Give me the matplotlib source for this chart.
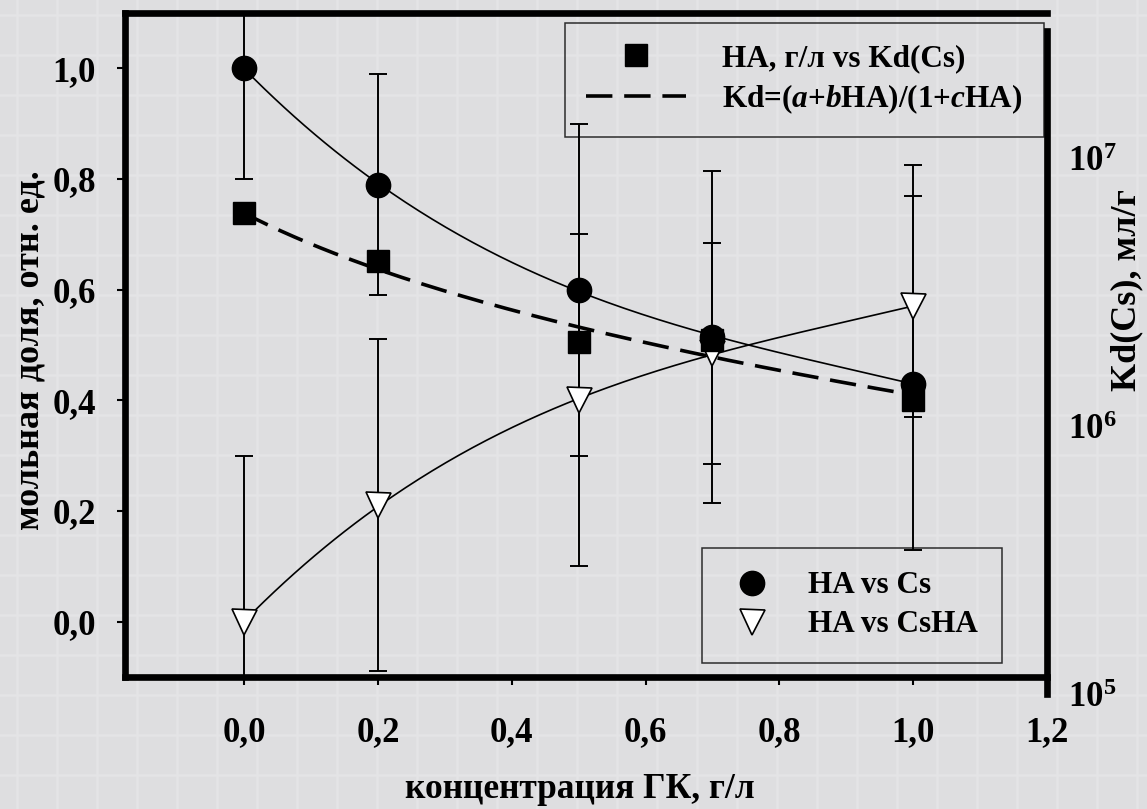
import numpy as np
import matplotlib
matplotlib.use('Agg')
import matplotlib.pyplot as plt
from matplotlib.lines import Line2D

plt.rcParams['font.family'] = 'Liberation Serif'
plt.rcParams['font.weight'] = 'bold'
plt.rcParams['mathtext.fontset'] = 'custom'
plt.rcParams['mathtext.rm'] = 'Liberation Serif:bold'
plt.rcParams['mathtext.bf'] = 'Liberation Serif:bold'
plt.rcParams['mathtext.it'] = 'Liberation Serif:italic:bold'
plt.rcParams['lines.scale_dashes'] = False

# HA concentration, g/l
ha = [0.0, 0.2, 0.5, 0.7, 1.0]

# mole fraction of free Cs, error bars (down, up)
cs = [1.0, 0.79, 0.60, 0.515, 0.43]
cs_lo = [0.2, 0.2, 0.3, 0.3, 0.3]
cs_hi = [0.2, 0.2, 0.3, 0.3, 0.395]

# mole fraction of CsHA, error bars (down, up)
csha = [0.0, 0.21, 0.40, 0.485, 0.57]
csha_lo = [0.3, 0.3, 0.3, 0.2, 0.2]
csha_hi = [0.3, 0.3, 0.3, 0.2, 0.2]

# Kd(Cs), ml/g
kd = [6.26e6, 4.14e6, 2.07e6, 2.10e6, 1.25e6]

# Kd = (a + b*HA) / (1 + c*HA)
fit_a, fit_b, fit_c = 6.26e6, -1.335e6, 2.76

x_ticks = [0.0, 0.2, 0.4, 0.6, 0.8, 1.0, 1.2]
y_ticks = [0.0, 0.2, 0.4, 0.6, 0.8, 1.0]
kd_ticks = [1e5, 1e6, 1e7]
kd_labels = [r'$10^{5}$', r'$10^{6}$', r'$10^{7}$']

W, H = 1147, 809
fig = plt.figure(figsize=(W / 100, H / 100), dpi=100, facecolor='#dedee0')


def box(left, top, right, bottom):
    # pixel box -> figure fraction rect
    return [left / W, 1 - bottom / H, (right - left) / W, (bottom - top) / H]


# graph paper backdrop
bg = fig.add_axes([0, 0, 1, 1], zorder=-10)
bg.set_xlim(0, W)
bg.set_ylim(H, 0)
bg.axis('off')
for gx in np.arange(17, W, 40):
    bg.axvline(gx, color='#e4e4e6', lw=1.8)
for gy in np.arange(15, H, 40):
    bg.axhline(gy, color='#e4e4e6', lw=1.8)

# mole fractions
ax = fig.add_axes(box(125, 13, 1047, 677))
ax.patch.set_visible(False)
ax.set_xlim(-0.178, 1.2)
ax.set_ylim(-0.1, 1.1)
for side in ['left', 'top', 'bottom']:
    ax.spines[side].set_linewidth(4.8)
ax.spines['right'].set_visible(False)
ax.set_xticks(x_ticks)
ax.set_xticklabels([f'{v:.1f}'.replace('.', ',') for v in x_ticks])
ax.set_yticks(y_ticks)
ax.set_yticklabels([f'{v:.1f}'.replace('.', ',') for v in y_ticks])
ax.tick_params(direction='out', length=6, width=1.5, labelsize=25)
ax.tick_params(axis='x', pad=22)
ax.tick_params(axis='y', pad=15)

xs = np.linspace(0, 1, 200)
ax.plot(xs, np.polyval(np.polyfit(ha, cs, 3), xs), color='k', lw=1.2)
ax.plot(xs, np.polyval(np.polyfit(ha, csha, 3), xs), color='k', lw=1.2)

err = dict(fmt='none', ecolor='k', elinewidth=1.4, capsize=6.5, capthick=1.4)
ax.errorbar(ha, cs, yerr=[cs_lo, cs_hi], **err)
ax.errorbar(ha, csha, yerr=[csha_lo, csha_hi], **err)
ax.plot(ha, csha, ls='none', marker='v', ms=18, mfc='white', mec='k', mew=1.2)
ax.plot(ha, cs, ls='none', marker='o', ms=17.5, color='k')

# Kd(Cs) on log scale
ax2 = fig.add_axes(box(125, 31, 1047, 694))
ax2.patch.set_visible(False)
ax2.set_xlim(-0.178, 1.2)
ax2.set_yscale('log')
ax2.set_ylim(1e5, 3e7)
for side in ['left', 'top', 'bottom']:
    ax2.spines[side].set_visible(False)
ax2.spines['right'].set_linewidth(4.8)
ax2.set_xticks([])
ax2.yaxis.tick_right()
ax2.set_yticks(kd_ticks)
ax2.set_yticklabels(kd_labels)
ax2.minorticks_off()
ax2.tick_params(axis='y', length=0, pad=15, labelsize=25)

ax2.plot(xs, (fit_a + fit_b * xs) / (1 + fit_c * xs), color='k', lw=2.6, dashes=(19, 8.5))
ax2.plot(ha, kd, ls='none', marker='s', ms=16.5, color='k')

leg_style = dict(loc='upper left', bbox_transform=fig.transFigure, fontsize=22.5,
                 fancybox=False, edgecolor='k', facecolor='none', framealpha=None,
                 borderaxespad=0)

leg1 = ax2.legend(
    handles=[Line2D([], [], ls='none', marker='s', ms=16.5, color='k'),
             Line2D([], [], color='k', lw=2.6, dashes=(19, 8.5))],
    labels=['HA, г/л vs Kd(Cs)', r'Kd=($a$+$b$HA)/(1+$c$HA)'],
    bbox_to_anchor=(565 / W, 1 - 23 / H), borderpad=0.68, handlelength=3.2,
    handletextpad=1.15, labelspacing=0.3, **leg_style)
leg1.get_frame().set_linewidth(1.1)

leg2 = ax.legend(
    handles=[Line2D([], [], ls='none', marker='o', ms=17.5, color='k'),
             Line2D([], [], ls='none', marker='v', ms=18, mfc='white', mec='k', mew=1.2)],
    labels=['HA vs Cs', 'HA vs CsHA'],
    bbox_to_anchor=(702 / W, 1 - 548 / H), borderpad=0.75, handlelength=1.7,
    handletextpad=0.95, labelspacing=0.32, **leg_style)
leg2.get_frame().set_linewidth(1.1)

fig.text(30 / W, 1 - 350 / H, 'мольная доля, отн. ед.', rotation=90,
         ha='center', va='center', fontsize=26)
fig.text(580 / W, 1 - 790 / H, 'концентрация ГК, г/л', ha='center', va='center', fontsize=25.5)
fig.text(1127 / W, 1 - 290 / H, 'Kd(Cs), мл/г', rotation=90,
         ha='center', va='center', fontsize=26)

fig.savefig('out.png', dpi=100, facecolor=fig.get_facecolor())
